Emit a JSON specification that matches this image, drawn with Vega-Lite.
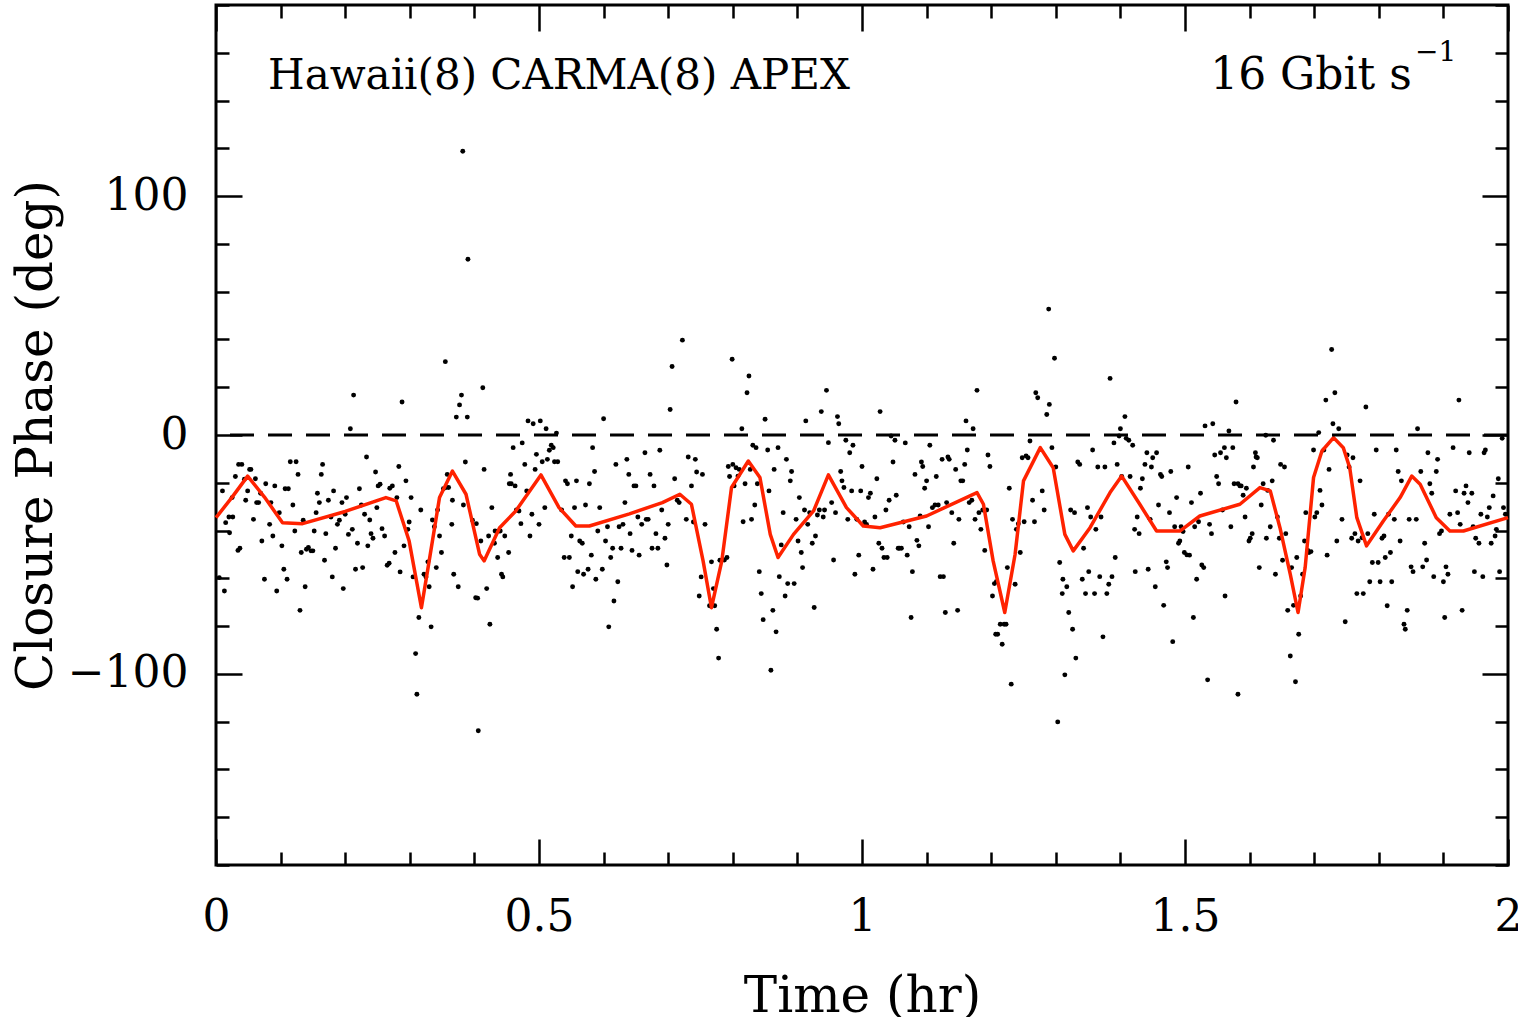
{
"$schema":"https://vega.github.io/schema/vega-lite/v6.json",
"width":1292,"height":860,
"autosize":"none",
"padding":{"left":216,"top":5,"right":10,"bottom":152},
"background":"white",
"datasets":{
"curve":[{"t":0,"v":-34.6},{"t":0.025,"v":-26},{"t":0.049,"v":-17.2},{"t":0.075,"v":-26},{"t":0.103,"v":-36.7},{"t":0.134,"v":-37.1},{"t":0.2,"v":-32},{"t":0.263,"v":-26.2},{"t":0.279,"v":-27.6},{"t":0.299,"v":-44.4},{"t":0.318,"v":-72.3},{"t":0.33,"v":-52.7},{"t":0.346,"v":-26.2},{"t":0.366,"v":-15.1},{"t":0.387,"v":-24.8},{"t":0.408,"v":-49.9},{"t":0.415,"v":-52.7},{"t":0.439,"v":-38.8},{"t":0.464,"v":-31.8},{"t":0.503,"v":-16.7},{"t":0.531,"v":-30.4},{"t":0.557,"v":-38.1},{"t":0.578,"v":-38.1},{"t":0.64,"v":-33},{"t":0.691,"v":-28.3},{"t":0.718,"v":-24.8},{"t":0.736,"v":-29},{"t":0.754,"v":-52.7},{"t":0.767,"v":-72.3},{"t":0.783,"v":-52.7},{"t":0.798,"v":-22},{"t":0.824,"v":-10.9},{"t":0.842,"v":-17.8},{"t":0.858,"v":-41.6},{"t":0.87,"v":-51.3},{"t":0.894,"v":-41.6},{"t":0.925,"v":-31.8},{"t":0.948,"v":-16.7},{"t":0.976,"v":-30.4},{"t":1.002,"v":-38.1},{"t":1.028,"v":-38.8},{"t":1.1,"v":-33.9},{"t":1.178,"v":-24.1},{"t":1.188,"v":-29},{"t":1.203,"v":-52.7},{"t":1.221,"v":-74.3},{"t":1.237,"v":-49.9},{"t":1.25,"v":-19.2},{"t":1.276,"v":-5.3},{"t":1.296,"v":-13.7},{"t":1.314,"v":-41.6},{"t":1.327,"v":-48.5},{"t":1.353,"v":-38.8},{"t":1.384,"v":-24.1},{"t":1.402,"v":-17.2},{"t":1.43,"v":-29},{"t":1.456,"v":-40.2},{"t":1.492,"v":-40.2},{"t":1.523,"v":-33.9},{"t":1.585,"v":-29},{"t":1.616,"v":-22},{"t":1.632,"v":-23.4},{"t":1.647,"v":-38.8},{"t":1.663,"v":-58.3},{"t":1.675,"v":-74.3},{"t":1.686,"v":-55.5},{"t":1.699,"v":-17.8},{"t":1.712,"v":-6.7},{"t":1.73,"v":-1.1},{"t":1.745,"v":-5.3},{"t":1.755,"v":-13.7},{"t":1.766,"v":-34.6},{"t":1.781,"v":-46.4},{"t":1.807,"v":-36},{"t":1.833,"v":-26.2},{"t":1.851,"v":-17.2},{"t":1.864,"v":-20.6},{"t":1.889,"v":-34.6},{"t":1.91,"v":-40.2},{"t":1.931,"v":-40.2},{"t":2,"v":-34.6}],
"pts":[
{"t":0.010,"v":-23.4},{"t":0.015,"v":-36.7},{"t":0.020,"v":-34.3},{"t":0.021,"v":-40.9},{"t":0.013,"v":-65.3},{"t":0.005,"v":-59.7},{"t":0.025,"v":-26.2},{"t":0.026,"v":-34.3},{"t":0.030,"v":-17.4},{"t":0.034,"v":-48.3},{"t":0.037,"v":-47.4},{"t":0.035,"v":-12.3},{"t":0.040,"v":-12.3},{"t":0.044,"v":-18.5},{"t":0.046,"v":-27.3},{"t":0.049,"v":-23.4},{"t":0.052,"v":-14.4},{"t":0.054,"v":-14.4},{"t":0.058,"v":-35.3},{"t":0.061,"v":-18.3},{"t":0.063,"v":-28.3},{"t":0.066,"v":-28.3},{"t":0.069,"v":-24.4},{"t":0.071,"v":-44.4},{"t":0.075,"v":-60.4},{"t":0.077,"v":-20.4},{"t":0.083,"v":-37.4},{"t":0.085,"v":-28.3},{"t":0.088,"v":-42.3},{"t":0.091,"v":-21.3},{"t":0.094,"v":-65.3},{"t":0.098,"v":-32.5},{"t":0.102,"v":-46.4},{"t":0.105,"v":-56.2},{"t":0.107,"v":-22.5},{"t":0.110,"v":-60.4},{"t":0.112,"v":-22.5},{"t":0.115,"v":-11.2},{"t":0.119,"v":-29.3},{"t":0.122,"v":-40.2},{"t":0.124,"v":-11.2},{"t":0.127,"v":-16.5},{"t":0.130,"v":-73.4},{"t":0.132,"v":-49.2},{"t":0.135,"v":-35.7},{"t":0.138,"v":-63.5},{"t":0.140,"v":-47.8},{"t":0.143,"v":-47.1},{"t":0.147,"v":-48.5},{"t":0.150,"v":-48.5},{"t":0.152,"v":-40.2},{"t":0.155,"v":-32.5},{"t":0.157,"v":-24.4},{"t":0.160,"v":-28.3},{"t":0.163,"v":-16.5},{"t":0.165,"v":-12.3},{"t":0.168,"v":-52.4},{"t":0.170,"v":-41.3},{"t":0.174,"v":-27.3},{"t":0.178,"v":-34.3},{"t":0.180,"v":-59.4},{"t":0.182,"v":-23.4},{"t":0.185,"v":-47.4},{"t":0.188,"v":-37.4},{"t":0.191,"v":-35.7},{"t":0.195,"v":-28.3},{"t":0.197,"v":-64.3},{"t":0.200,"v":-33.2},{"t":0.202,"v":-26.2},{"t":0.205,"v":-41.6},{"t":0.208,"v":2.6},{"t":0.211,"v":-39.5},{"t":0.213,"v":16.7},{"t":0.216,"v":-56.2},{"t":0.219,"v":-45.3},{"t":0.222,"v":-22.5},{"t":0.225,"v":-29.3},{"t":0.227,"v":-55.5},{"t":0.230,"v":-33.2},{"t":0.233,"v":-9.2},{"t":0.235,"v":-46.4},{"t":0.238,"v":-35.6},{"t":0.240,"v":-41.3},{"t":0.243,"v":-43.2},{"t":0.247,"v":-15.5},{"t":0.249,"v":-30.4},{"t":0.251,"v":-21.3},{"t":0.254,"v":-20.6},{"t":0.257,"v":-39.2},{"t":0.261,"v":-42.3},{"t":0.265,"v":-54.5},{"t":0.268,"v":-53.7},{"t":0.269,"v":-22.3},{"t":0.273,"v":-21.3},{"t":0.277,"v":-49.2},{"t":0.280,"v":-26.2},{"t":0.283,"v":-13.2},{"t":0.285,"v":-57.3},{"t":0.288,"v":13.8},{"t":0.291,"v":-46.4},{"t":0.294,"v":-19.2},{"t":0.297,"v":-39.5},{"t":0.299,"v":-36.4},{"t":0.302,"v":-26.2},{"t":0.305,"v":-59.4},{"t":0.309,"v":-91.5},{"t":0.311,"v":-108.5},{"t":0.314,"v":-76.4},{"t":0.317,"v":-31.4},{"t":0.322,"v":-58.3},{"t":0.325,"v":-59.4},{"t":0.328,"v":-53.1},{"t":0.330,"v":-63.5},{"t":0.333,"v":-80.3},{"t":0.335,"v":-35.6},{"t":0.338,"v":-38.4},{"t":0.341,"v":-55.5},{"t":0.343,"v":-31.4},{"t":0.346,"v":-42.3},{"t":0.349,"v":-49.2},{"t":0.352,"v":-22.5},{"t":0.355,"v":30.7},{"t":0.356,"v":-22.0},{"t":0.358,"v":-16.5},{"t":0.360,"v":-22.0},{"t":0.365,"v":-37.4},{"t":0.366,"v":-27.3},{"t":0.368,"v":-58.3},{"t":0.372,"v":7.5},{"t":0.375,"v":-63.5},{"t":0.377,"v":12.6},{"t":0.380,"v":16.7},{"t":0.383,"v":-29.3},{"t":0.386,"v":-11.3},{"t":0.389,"v":7.5},{"t":0.397,"v":-35.7},{"t":0.402,"v":-68.1},{"t":0.382,"v":118.8},{"t":0.390,"v":73.6},{"t":0.406,"v":-123.8},
{"t":0.403,"v":-37.1},{"t":0.405,"v":-68.3},{"t":0.410,"v":-44.4},{"t":0.415,"v":-14.4},{"t":0.413,"v":19.8},{"t":0.419,"v":-64.3},{"t":0.422,"v":-42.3},{"t":0.424,"v":-79.2},{"t":0.427,"v":-30.4},{"t":0.431,"v":-45.3},{"t":0.432,"v":-40.2},{"t":0.436,"v":-51.3},{"t":0.438,"v":-40.2},{"t":0.440,"v":-40.2},{"t":0.442,"v":-58.3},{"t":0.444,"v":-59.4},{"t":0.447,"v":-42.3},{"t":0.453,"v":-49.2},{"t":0.456,"v":-16.5},{"t":0.454,"v":-20.4},{"t":0.457,"v":-20.4},{"t":0.460,"v":-5.3},{"t":0.463,"v":-21.3},{"t":0.465,"v":-31.4},{"t":0.469,"v":-31.8},{"t":0.472,"v":-37.1},{"t":0.474,"v":-3.3},{"t":0.478,"v":-12.3},{"t":0.481,"v":-23.4},{"t":0.483,"v":5.9},{"t":0.486,"v":-42.3},{"t":0.489,"v":-33.2},{"t":0.491,"v":4.7},{"t":0.494,"v":-14.4},{"t":0.496,"v":-8.1},{"t":0.500,"v":-37.4},{"t":0.502,"v":5.9},{"t":0.505,"v":-11.2},{"t":0.509,"v":-30.4},{"t":0.511,"v":2.6},{"t":0.513,"v":-10.2},{"t":0.516,"v":-6.4},{"t":0.519,"v":-4.3},{"t":0.522,"v":-5.3},{"t":0.524,"v":-11.2},{"t":0.527,"v":0.8},{"t":0.529,"v":-11.2},{"t":0.535,"v":-31.4},{"t":0.539,"v":-51.3},{"t":0.541,"v":-19.2},{"t":0.544,"v":-20.4},{"t":0.547,"v":-51.3},{"t":0.550,"v":-42.3},{"t":0.552,"v":-63.5},{"t":0.555,"v":-30.4},{"t":0.558,"v":-19.2},{"t":0.560,"v":-57.2},{"t":0.563,"v":-44.4},{"t":0.567,"v":-45.3},{"t":0.569,"v":-58.3},{"t":0.572,"v":-29.3},{"t":0.576,"v":-56.2},{"t":0.578,"v":-20.4},{"t":0.581,"v":-50.3},{"t":0.583,"v":-5.3},{"t":0.586,"v":-15.3},{"t":0.588,"v":-60.4},{"t":0.591,"v":-40.2},{"t":0.594,"v":-30.4},{"t":0.598,"v":-56.2},{"t":0.600,"v":6.8},{"t":0.603,"v":-44.4},{"t":0.606,"v":-38.4},{"t":0.608,"v":-80.3},{"t":0.611,"v":-51.3},{"t":0.614,"v":-47.4},{"t":0.616,"v":-69.5},{"t":0.619,"v":-12.3},{"t":0.622,"v":-61.4},{"t":0.624,"v":-38.4},{"t":0.627,"v":-47.4},{"t":0.630,"v":-37.4},{"t":0.633,"v":-28.3},{"t":0.636,"v":-10.2},{"t":0.639,"v":-16.5},{"t":0.641,"v":-41.3},{"t":0.644,"v":-48.3},{"t":0.647,"v":-21.3},{"t":0.650,"v":-21.3},{"t":0.653,"v":-34.3},{"t":0.655,"v":-50.3},{"t":0.659,"v":-37.4},{"t":0.664,"v":-7.4},{"t":0.666,"v":-35.3},{"t":0.669,"v":-35.3},{"t":0.672,"v":-16.5},{"t":0.675,"v":-47.4},{"t":0.678,"v":-21.3},{"t":0.681,"v":-41.3},{"t":0.684,"v":-47.4},{"t":0.687,"v":-6.4},{"t":0.690,"v":-31.4},{"t":0.695,"v":-43.2},{"t":0.698,"v":-54.4},{"t":0.700,"v":-37.4},{"t":0.703,"v":10.7},{"t":0.706,"v":28.7},{"t":0.710,"v":-18.3},{"t":0.714,"v":-27.3},{"t":0.717,"v":-28.3},{"t":0.722,"v":39.7},{"t":0.728,"v":-35.3},{"t":0.731,"v":-9.2},{"t":0.736,"v":-21.3},{"t":0.739,"v":-36.4},{"t":0.742,"v":-10.2},{"t":0.744,"v":-15.5},{"t":0.748,"v":-67.4},{"t":0.751,"v":-59.4},{"t":0.753,"v":-16.5},{"t":0.757,"v":-37.4},{"t":0.764,"v":-71.5},{"t":0.767,"v":-53.1},{"t":0.770,"v":-64.3},{"t":0.772,"v":-71.5},{"t":0.775,"v":-81.3},{"t":0.778,"v":-93.4},{"t":0.780,"v":-52.4},{"t":0.784,"v":-52.3},{"t":0.787,"v":-52.3},{"t":0.791,"v":-51.3},{"t":0.793,"v":-13.2},{"t":0.795,"v":-17.4},{"t":0.799,"v":31.7},{"t":0.800,"v":-12.3},{"t":0.802,"v":-21.3},
{"t":0.805,"v":-13.7},{"t":0.808,"v":-17.2},{"t":0.810,"v":-14.4},{"t":0.814,"v":2.6},{"t":0.816,"v":-36.3},{"t":0.819,"v":-20.4},{"t":0.822,"v":17.7},{"t":0.825,"v":24.7},{"t":0.827,"v":-14.4},{"t":0.829,"v":-35.3},{"t":0.831,"v":-4.3},{"t":0.834,"v":-29.3},{"t":0.836,"v":-5.3},{"t":0.838,"v":-20.4},{"t":0.841,"v":-57.2},{"t":0.844,"v":-66.4},{"t":0.847,"v":-77.3},{"t":0.850,"v":6.6},{"t":0.854,"v":-6.3},{"t":0.856,"v":-23.4},{"t":0.859,"v":-98.5},{"t":0.862,"v":-73.4},{"t":0.864,"v":-14.4},{"t":0.867,"v":-82.4},{"t":0.870,"v":-5.3},{"t":0.872,"v":-59.3},{"t":0.875,"v":-46.0},{"t":0.878,"v":-32.5},{"t":0.881,"v":-67.4},{"t":0.883,"v":-10.2},{"t":0.885,"v":-62.2},{"t":0.889,"v":-19.2},{"t":0.891,"v":-15.3},{"t":0.895,"v":-62.2},{"t":0.898,"v":-35.3},{"t":0.901,"v":-44.4},{"t":0.903,"v":-26.2},{"t":0.906,"v":-49.2},{"t":0.908,"v":-55.5},{"t":0.911,"v":-31.4},{"t":0.913,"v":5.9},{"t":0.916,"v":-37.4},{"t":0.919,"v":-32.5},{"t":0.923,"v":-45.3},{"t":0.926,"v":-72.2},{"t":0.928,"v":-42.3},{"t":0.931,"v":-33.5},{"t":0.934,"v":-31.4},{"t":0.937,"v":9.8},{"t":0.940,"v":-34.3},{"t":0.942,"v":-31.4},{"t":0.945,"v":18.7},{"t":0.948,"v":-3.2},{"t":0.953,"v":-28.3},{"t":0.956,"v":-52.3},{"t":0.959,"v":-32.5},{"t":0.962,"v":7.7},{"t":0.964,"v":4.7},{"t":0.967,"v":-15.3},{"t":0.969,"v":-19.2},{"t":0.972,"v":-22.0},{"t":0.975,"v":-2.2},{"t":0.978,"v":-35.3},{"t":0.981,"v":-7.4},{"t":0.984,"v":-23.4},{"t":0.986,"v":-4.3},{"t":0.989,"v":-58.3},{"t":0.992,"v":-35.3},{"t":0.995,"v":-50.3},{"t":0.998,"v":-23.4},{"t":1.000,"v":-13.2},{"t":1.004,"v":-36.4},{"t":1.007,"v":-37.4},{"t":1.010,"v":-26.2},{"t":1.013,"v":-24.4},{"t":1.017,"v":-56.2},{"t":1.020,"v":-34.3},{"t":1.023,"v":-18.3},{"t":1.026,"v":-45.3},{"t":1.028,"v":9.8},{"t":1.031,"v":-47.4},{"t":1.034,"v":-51.3},{"t":1.037,"v":-31.4},{"t":1.039,"v":-51.3},{"t":1.042,"v":-27.3},{"t":1.045,"v":-0.4},{"t":1.048,"v":-11.3},{"t":1.051,"v":-2.2},{"t":1.053,"v":-25.2},{"t":1.056,"v":-47.4},{"t":1.058,"v":-47.4},{"t":1.061,"v":-47.4},{"t":1.064,"v":-36.4},{"t":1.067,"v":-3.3},{"t":1.070,"v":-50.3},{"t":1.073,"v":-38.4},{"t":1.076,"v":-76.4},{"t":1.078,"v":-57.2},{"t":1.082,"v":-16.5},{"t":1.085,"v":-44.1},{"t":1.088,"v":-46.4},{"t":1.090,"v":-33.9},{"t":1.092,"v":-11.3},{"t":1.094,"v":-13.2},{"t":1.097,"v":-22.3},{"t":1.100,"v":-19.2},{"t":1.103,"v":-38.4},{"t":1.105,"v":-4.3},{"t":1.109,"v":-30.4},{"t":1.113,"v":-29.3},{"t":1.115,"v":-17.4},{"t":1.118,"v":-29.3},{"t":1.121,"v":-59.3},{"t":1.124,"v":-10.2},{"t":1.126,"v":-59.3},{"t":1.129,"v":-74.3},{"t":1.131,"v":-28.3},{"t":1.133,"v":-9.2},{"t":1.135,"v":-10.2},{"t":1.139,"v":-32.5},{"t":1.142,"v":-45.3},{"t":1.145,"v":-14.4},{"t":1.148,"v":-73.4},{"t":1.150,"v":-35.3},{"t":1.153,"v":-19.2},{"t":1.156,"v":-19.2},{"t":1.159,"v":-12.3},{"t":1.161,"v":5.9},{"t":1.163,"v":-6.3},{"t":1.166,"v":-28.3},{"t":1.170,"v":-27.3},{"t":1.172,"v":2.6},{"t":1.175,"v":-35.3},{"t":1.178,"v":18.7},{"t":1.181,"v":-32.5},{"t":1.184,"v":-39.5},{"t":1.187,"v":-31.4},{"t":1.190,"v":-48.3},{"t":1.193,"v":-31.4},{"t":1.195,"v":-8.4},{"t":1.198,"v":-13.2},{"t":1.202,"v":-67.4},{"t":1.205,"v":-62.2},{"t":1.207,"v":-83.4},
{"t":1.208,"v":-61.4},{"t":1.210,"v":-83.4},{"t":1.217,"v":-87.6},{"t":1.214,"v":-79.2},{"t":1.220,"v":-79.2},{"t":1.223,"v":-79.2},{"t":1.225,"v":-55.5},{"t":1.228,"v":-22.3},{"t":1.231,"v":-104.3},{"t":1.233,"v":-35.3},{"t":1.237,"v":-62.5},{"t":1.239,"v":-39.5},{"t":1.242,"v":-37.1},{"t":1.245,"v":-49.2},{"t":1.248,"v":-9.5},{"t":1.251,"v":-36.3},{"t":1.254,"v":-8.8},{"t":1.257,"v":-9.5},{"t":1.260,"v":-2.5},{"t":1.264,"v":-27.3},{"t":1.267,"v":-36.3},{"t":1.269,"v":17.7},{"t":1.272,"v":15.6},{"t":1.279,"v":-23.4},{"t":1.282,"v":-31.4},{"t":1.286,"v":8.6},{"t":1.290,"v":12.8},{"t":1.294,"v":-5.3},{"t":1.298,"v":32.1},{"t":1.300,"v":-13.4},{"t":1.306,"v":-53.4},{"t":1.311,"v":-60.4},{"t":1.310,"v":-66.4},{"t":1.314,"v":-100.4},{"t":1.317,"v":-63.5},{"t":1.320,"v":-74.3},{"t":1.323,"v":-31.4},{"t":1.326,"v":-81.3},{"t":1.329,"v":-32.5},{"t":1.331,"v":-93.4},{"t":1.334,"v":-11.3},{"t":1.337,"v":-12.3},{"t":1.341,"v":-60.4},{"t":1.343,"v":-47.4},{"t":1.346,"v":-66.4},{"t":1.349,"v":-30.4},{"t":1.351,"v":-57.2},{"t":1.354,"v":-34.3},{"t":1.357,"v":-6.3},{"t":1.360,"v":-66.4},{"t":1.362,"v":-39.5},{"t":1.365,"v":-13.4},{"t":1.368,"v":-59.3},{"t":1.370,"v":-34.3},{"t":1.373,"v":-84.5},{"t":1.376,"v":-13.4},{"t":1.379,"v":-66.4},{"t":1.382,"v":-62.5},{"t":1.384,"v":23.7},{"t":1.387,"v":-59.3},{"t":1.390,"v":-3.3},{"t":1.392,"v":-51.3},{"t":1.395,"v":-12.3},{"t":1.398,"v":-0.4},{"t":1.400,"v":2.6},{"t":1.402,"v":-17.4},{"t":1.407,"v":7.7},{"t":1.409,"v":-1.4},{"t":1.413,"v":-2.2},{"t":1.415,"v":-17.4},{"t":1.419,"v":-4.3},{"t":1.422,"v":-39.5},{"t":1.423,"v":-57.2},{"t":1.426,"v":-34.3},{"t":1.429,"v":-41.3},{"t":1.431,"v":-22.3},{"t":1.434,"v":-18.3},{"t":1.438,"v":-12.3},{"t":1.441,"v":-7.4},{"t":1.443,"v":-56.2},{"t":1.446,"v":-35.3},{"t":1.448,"v":-13.4},{"t":1.450,"v":-9.5},{"t":1.454,"v":-63.5},{"t":1.456,"v":-7.4},{"t":1.459,"v":-29.3},{"t":1.462,"v":-16.5},{"t":1.464,"v":-17.4},{"t":1.467,"v":-71.3},{"t":1.471,"v":-53.1},{"t":1.473,"v":-55.5},{"t":1.476,"v":-32.5},{"t":1.478,"v":-15.3},{"t":1.481,"v":-86.5},{"t":1.484,"v":-38.4},{"t":1.487,"v":-26.2},{"t":1.490,"v":-45.3},{"t":1.492,"v":-44.4},{"t":1.494,"v":-38.4},{"t":1.497,"v":-40.4},{"t":1.499,"v":-49.2},{"t":1.503,"v":-50.2},{"t":1.505,"v":-13.4},{"t":1.507,"v":-50.3},{"t":1.510,"v":-28.3},{"t":1.513,"v":-76.4},{"t":1.515,"v":-38.4},{"t":1.518,"v":-60.4},{"t":1.521,"v":-36.3},{"t":1.524,"v":-24.4},{"t":1.526,"v":-54.4},{"t":1.529,"v":-55.5},{"t":1.531,"v":3.8},{"t":1.535,"v":-102.5},{"t":1.538,"v":-37.4},{"t":1.541,"v":-41.3},{"t":1.543,"v":4.7},{"t":1.546,"v":-8.4},{"t":1.549,"v":-17.4},{"t":1.552,"v":-20.4},{"t":1.555,"v":-7.4},{"t":1.558,"v":-31.4},{"t":1.561,"v":-5.3},{"t":1.562,"v":-67.4},{"t":1.564,"v":-9.5},{"t":1.568,"v":1.7},{"t":1.571,"v":-38.4},{"t":1.574,"v":-5.3},{"t":1.576,"v":-20.4},{"t":1.579,"v":13.8},{"t":1.582,"v":-20.4},{"t":1.585,"v":-21.3},{"t":1.587,"v":-21.3},{"t":1.590,"v":-25.2},{"t":1.593,"v":-34.3},{"t":1.595,"v":-22.3},{"t":1.599,"v":-44.4},{"t":1.601,"v":-43.2},{"t":1.604,"v":-41.3},{"t":1.606,"v":-13.4},{"t":1.609,"v":-7.4},{"t":1.582,"v":-108.5},{"t":1.289,"v":52.7},{"t":1.303,"v":-120.1},
{"t":1.610,"v":-9.2},{"t":1.612,"v":-9.5},{"t":1.615,"v":-55.5},{"t":1.618,"v":-29.3},{"t":1.621,"v":-20.4},{"t":1.625,"v":-0.1},{"t":1.626,"v":-43.2},{"t":1.628,"v":-23.2},{"t":1.632,"v":-38.4},{"t":1.635,"v":-19.2},{"t":1.637,"v":-2.2},{"t":1.640,"v":-58.3},{"t":1.643,"v":-34.3},{"t":1.646,"v":-43.2},{"t":1.648,"v":-12.3},{"t":1.651,"v":-52.4},{"t":1.654,"v":-13.4},{"t":1.656,"v":-41.3},{"t":1.659,"v":-73.4},{"t":1.663,"v":-92.5},{"t":1.665,"v":-55.5},{"t":1.668,"v":-71.3},{"t":1.671,"v":-103.3},{"t":1.673,"v":-51.3},{"t":1.676,"v":-83.4},{"t":1.679,"v":-67.4},{"t":1.682,"v":-58.3},{"t":1.685,"v":-44.4},{"t":1.687,"v":-32.5},{"t":1.690,"v":-48.3},{"t":1.692,"v":-49.2},{"t":1.695,"v":-48.8},{"t":1.699,"v":-6.3},{"t":1.701,"v":-34.3},{"t":1.704,"v":-32.5},{"t":1.707,"v":1.0},{"t":1.709,"v":-23.2},{"t":1.712,"v":-29.3},{"t":1.715,"v":-6.3},{"t":1.718,"v":14.6},{"t":1.720,"v":-50.3},{"t":1.723,"v":-14.4},{"t":1.727,"v":35.8},{"t":1.729,"v":4.7},{"t":1.732,"v":17.7},{"t":1.735,"v":-44.4},{"t":1.738,"v":2.6},{"t":1.743,"v":-35.3},{"t":1.748,"v":-78.2},{"t":1.751,"v":-8.4},{"t":1.754,"v":-13.4},{"t":1.758,"v":-43.2},{"t":1.760,"v":-9.5},{"t":1.763,"v":-41.3},{"t":1.766,"v":-66.4},{"t":1.768,"v":-44.4},{"t":1.771,"v":-19.2},{"t":1.774,"v":-43.0},{"t":1.776,"v":-66.4},{"t":1.780,"v":11.7},{"t":1.783,"v":-41.3},{"t":1.786,"v":-61.4},{"t":1.790,"v":-53.4},{"t":1.793,"v":-33.2},{"t":1.796,"v":-6.3},{"t":1.799,"v":-53.4},{"t":1.802,"v":-61.4},{"t":1.805,"v":-43.2},{"t":1.808,"v":-42.3},{"t":1.810,"v":-51.3},{"t":1.813,"v":-71.5},{"t":1.815,"v":-33.2},{"t":1.818,"v":-49.2},{"t":1.820,"v":-61.4},{"t":1.824,"v":-35.3},{"t":1.827,"v":-6.3},{"t":1.830,"v":-15.3},{"t":1.833,"v":-44.4},{"t":1.835,"v":-19.2},{"t":1.839,"v":-79.2},{"t":1.841,"v":-81.3},{"t":1.844,"v":-73.4},{"t":1.847,"v":-35.3},{"t":1.850,"v":-55.2},{"t":1.853,"v":-57.2},{"t":1.858,"v":-35.3},{"t":1.860,"v":2.6},{"t":1.865,"v":-15.3},{"t":1.868,"v":-55.2},{"t":1.871,"v":-45.3},{"t":1.874,"v":-52.3},{"t":1.876,"v":-7.4},{"t":1.879,"v":-20.4},{"t":1.882,"v":-24.4},{"t":1.885,"v":-59.3},{"t":1.889,"v":-15.3},{"t":1.891,"v":-10.2},{"t":1.894,"v":-41.3},{"t":1.897,"v":-40.2},{"t":1.900,"v":-61.4},{"t":1.902,"v":-76.4},{"t":1.904,"v":-55.2},{"t":1.907,"v":-58.3},{"t":1.910,"v":-33.2},{"t":1.915,"v":-5.3},{"t":1.919,"v":-23.4},{"t":1.922,"v":-32.5},{"t":1.924,"v":14.6},{"t":1.926,"v":-37.4},{"t":1.929,"v":-73.4},{"t":1.932,"v":-24.4},{"t":1.935,"v":-21.3},{"t":1.938,"v":-28.3},{"t":1.940,"v":-7.4},{"t":1.944,"v":-24.4},{"t":1.946,"v":-38.4},{"t":1.948,"v":-57.2},{"t":1.950,"v":-43.2},{"t":1.955,"v":-45.3},{"t":1.958,"v":-33.2},{"t":1.961,"v":-59.3},{"t":1.963,"v":-7.4},{"t":1.965,"v":-6.3},{"t":1.968,"v":-34.3},{"t":1.971,"v":-30.4},{"t":1.974,"v":-45.3},{"t":1.977,"v":-25.5},{"t":1.980,"v":-42.3},{"t":1.982,"v":-39.5},{"t":1.985,"v":-18.3},{"t":1.987,"v":-57.2},{"t":1.991,"v":-1.4},{"t":1.993,"v":-30.4},{"t":1.996,"v":-33.2}
]},
"layer":[
{"data":{"name":"pts"},
 "mark":{"type":"circle","size":24,"color":"black","opacity":1},
 "encoding":{
  "x":{"field":"t","type":"quantitative","scale":{"domain":[0,2],"nice":false,"zero":false},
   "axis":{"orient":"bottom","values":[0,0.1,0.2,0.3,0.4,0.5,0.6,0.7,0.8,0.9,1,1.1,1.2,1.3,1.4,1.5,1.6,1.7,1.8,1.9,2],"format":"~g",
    "labelExpr":"abs(datum.value*2-round(datum.value*2))<0.001 ? datum.label : ''",
    "tickSize":{"condition":{"test":"abs(datum.value*2-round(datum.value*2))<0.001","value":-26},"value":-13},
    "labelPadding":56,"labelFlush":false,"labelOverlap":false,"title":"Time (hr)","titlePadding":19}},
  "y":{"field":"v","type":"quantitative","scale":{"domain":[-180,180],"nice":false,"zero":false},
   "axis":{"orient":"left","values":[-180,-160,-140,-120,-100,-80,-60,-40,-20,0,20,40,60,80,100,120,140,160,180],"format":"d",
    "labelExpr":"datum.value % 100 === 0 ? datum.label : ''",
    "tickSize":{"condition":{"test":"datum.value % 100 === 0","value":-26},"value":-13},
    "labelPadding":54,"labelOverlap":false,"labelFlush":false,"title":"Closure Phase (deg)","titlePadding":6}}
 }},
{"data":{"name":"curve"},
 "mark":{"type":"line","color":"#ff2200","strokeWidth":3.5,"strokeJoin":"round"},
 "encoding":{
  "x":{"field":"t","type":"quantitative",
   "axis":{"orient":"top","values":[0,0.1,0.2,0.3,0.4,0.5,0.6,0.7,0.8,0.9,1,1.1,1.2,1.3,1.4,1.5,1.6,1.7,1.8,1.9,2],"labels":false,"title":null,
    "tickSize":{"condition":{"test":"abs(datum.value*2-round(datum.value*2))<0.001","value":-26},"value":-13}}},
  "y":{"field":"v","type":"quantitative",
   "axis":{"orient":"right","values":[-180,-160,-140,-120,-100,-80,-60,-40,-20,0,20,40,60,80,100,120,140,160,180],"labels":false,"title":null,
    "tickSize":{"condition":{"test":"datum.value % 100 === 0","value":-26},"value":-13}}}
 }},
{"data":{"values":[{}]},
 "mark":{"type":"rule","color":"black","strokeWidth":3,"strokeDash":[24,14]},
 "encoding":{"y":{"datum":0,"type":"quantitative","axis":null}}},
{"data":{"values":[{}]},
 "mark":{"type":"text","font":"DejaVu Serif","fontSize":42,"align":"left","baseline":"alphabetic","color":"black"},
 "encoding":{"x":{"datum":0.0805,"type":"quantitative","axis":null},"y":{"datum":144.8,"type":"quantitative","axis":null},"text":{"value":"Hawaii(8) CARMA(8) APEX"}}},
{"data":{"values":[{}]},
 "mark":{"type":"text","font":"DejaVu Serif","fontSize":44,"align":"right","baseline":"alphabetic","color":"black"},
 "encoding":{"x":{"datum":1.851,"type":"quantitative","axis":null},"y":{"datum":144.8,"type":"quantitative","axis":null},"text":{"value":"16 Gbit s"}}},
{"data":{"values":[{}]},
 "mark":{"type":"text","font":"DejaVu Serif","fontSize":28,"align":"left","baseline":"alphabetic","color":"black"},
 "encoding":{"x":{"datum":1.856,"type":"quantitative","axis":null},"y":{"datum":156.5,"type":"quantitative","axis":null},"text":{"value":"−1"}}}
],
"resolve":{"axis":{"x":"independent","y":"independent"}},
"config":{
 "view":{"stroke":"black","strokeWidth":3},
 "axis":{"labelFont":"DejaVu Serif","titleFont":"DejaVu Serif","labelFontSize":44,"titleFontSize":50,"titleFontWeight":"normal","labelColor":"black","titleColor":"black","tickColor":"black","tickWidth":2.5,"grid":false,"domain":false}
}
}
